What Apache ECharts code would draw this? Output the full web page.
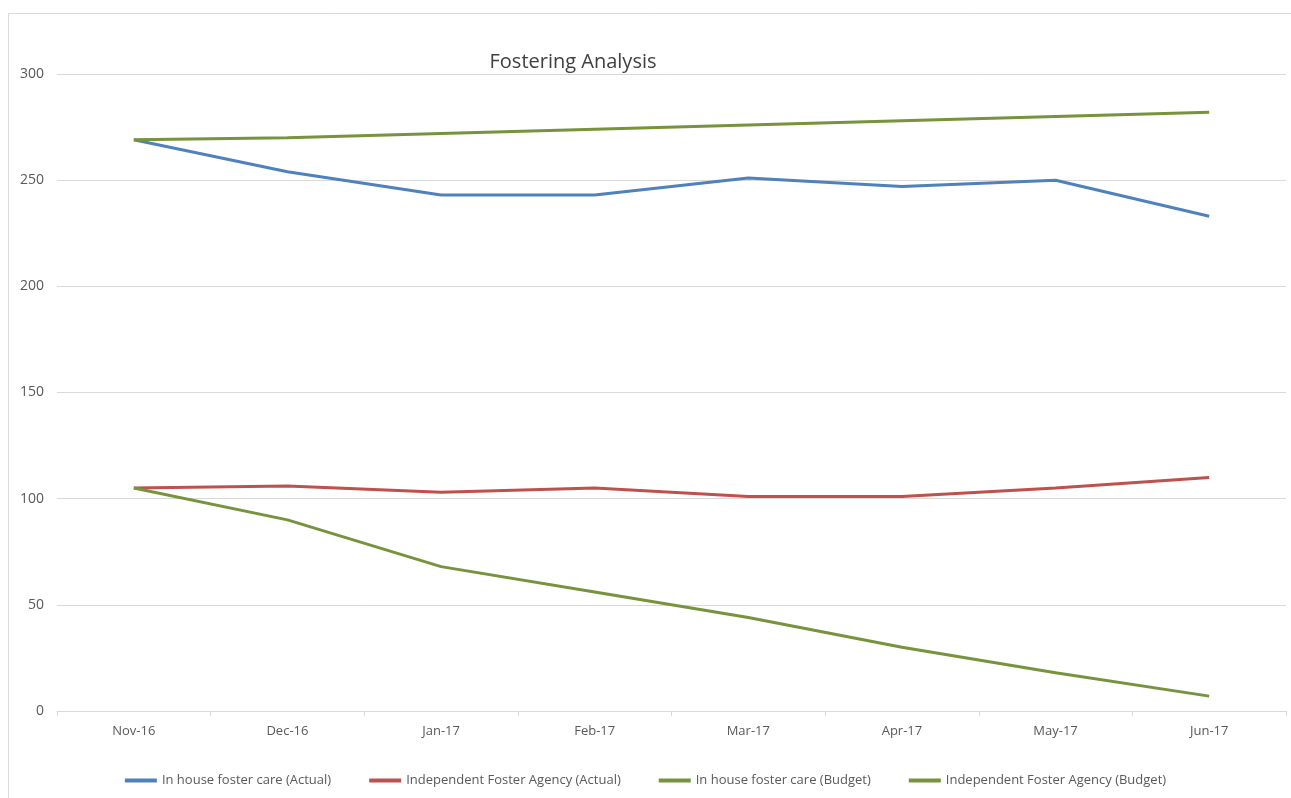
<!DOCTYPE html>
<html>
<head>
<meta charset="utf-8">
<script src="https://cdn.jsdelivr.net/npm/echarts@6/dist/echarts.min.js"></script>
<style>
  html, body { margin: 0; padding: 0; background: #fff; }
  #chart { width: 1291px; height: 798px; }
</style>
</head>
<body>
<div id="chart"></div>
<script>
const months = ["Nov-16", "Dec-16", "Jan-17", "Feb-17", "Mar-17", "Apr-17", "May-17", "Jun-17"];
const inHouseActual = [269, 254, 243, 243, 251, 247, 250, 233];
const ifaActual = [105, 106, 103, 105, 101, 101, 105, 110];
const inHouseBudget = [269, 270, 272, 274, 276, 278, 280, 282];
const ifaBudget = [105, 90, 68, 56, 44, 30, 18, 7];
const yTicks = [0, 50, 100, 150, 200, 250, 300];

const font = "'Open Sans', sans-serif";
const myChart = echarts.init(document.getElementById("chart"));

function line(name, data, color) {
  return {
    name: name,
    type: "line",
    data: data,
    symbol: "none",
    lineStyle: { color: color, width: 3 },
    itemStyle: { color: color }
  };
}

const option = {
  animation: false,
  title: {
    text: "Fostering Analysis",
    left: 568,
    top: 47,
    textAlign: "center",
    textStyle: { fontFamily: font, fontSize: 20, fontWeight: "normal", color: "#404040" }
  },
  // chart area border (only top/left visible in the crop)
  graphic: [{
    type: "rect",
    shape: { x: 8.5, y: 13.5, width: 1300, height: 800 },
    style: { fill: "none", stroke: "#d9d9d9", lineWidth: 1 },
    silent: true
  }],
  grid: { left: 57, right: 5, top: 74, bottom: 87 },
  legend: {
    bottom: 6,
    left: "center",
    itemWidth: 32,
    itemHeight: 4,
    itemGap: 38,
    icon: "rect",
    textStyle: { fontFamily: font, fontSize: 13, color: "#595959" },
    data: [
      "In house foster care (Actual)",
      "Independent Foster Agency (Actual)",
      "In house foster care (Budget)",
      "Independent Foster Agency (Budget)"
    ]
  },
  xAxis: {
    type: "category",
    data: months,
    boundaryGap: true,
    axisLine: { lineStyle: { color: "#d9d9d9" } },
    axisTick: { show: true, length: 5, lineStyle: { color: "#d9d9d9" } },
    axisLabel: { fontFamily: font, fontSize: 13, color: "#595959", margin: 14 }
  },
  yAxis: {
    type: "value",
    min: yTicks[0],
    max: yTicks[yTicks.length - 1],
    interval: 50,
    axisLine: { show: false },
    axisTick: { show: false },
    axisLabel: { fontFamily: font, fontSize: 14, color: "#595959", margin: 13 },
    splitLine: { lineStyle: { color: "#d9d9d9" } }
  },
  series: [
    line("In house foster care (Actual)", inHouseActual, "#4F81BD"),
    line("Independent Foster Agency (Actual)", ifaActual, "#C0504D"),
    line("In house foster care (Budget)", inHouseBudget, "#77933C"),
    line("Independent Foster Agency (Budget)", ifaBudget, "#77933C")
  ]
};

myChart.setOption(option);
</script>
</body>
</html>
